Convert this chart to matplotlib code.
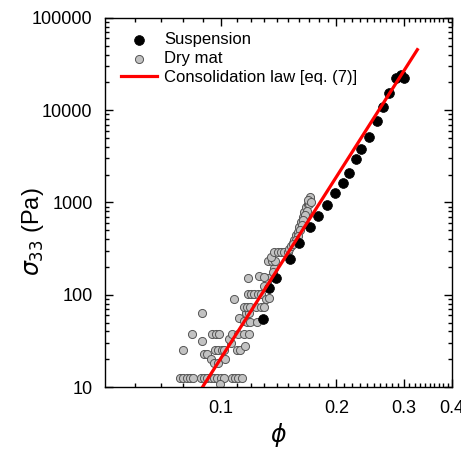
import numpy as np
import matplotlib
matplotlib.use("Agg")
import matplotlib.pyplot as plt
from matplotlib.ticker import FixedLocator, FixedFormatter, LogLocator, NullFormatter

plt.rcParams['font.family'] = ['Liberation Sans', 'DejaVu Sans']

# Suspension data (phi, sigma_33 in Pa)
susp_phi = [0.1288, 0.1336, 0.1393, 0.1516, 0.160, 0.171, 0.1795, 0.1895, 0.1988, 0.2087,
            0.2163, 0.2256, 0.2325, 0.2426, 0.2545, 0.264, 0.2736, 0.2855, 0.294, 0.2995]
susp_sigma = [54.6, 118, 152, 244, 364, 542, 714, 939, 1268, 1626,
              2089, 2961, 3802, 5130, 7647, 10840, 15380, 22380, 24110, 22380]

# Dry mat data (phi, sigma_33 in Pa)
dry_phi = [0.0786, 0.0800, 0.0815, 0.0830, 0.0848, 0.0887, 0.0903, 0.0923, 0.0941, 0.0960,
           0.0980, 0.1000, 0.1020, 0.1069, 0.1088, 0.1110, 0.1133, 0.0995,
           0.0799, 0.0843, 0.0896, 0.0894, 0.0903, 0.0923,
           0.0941, 0.0960, 0.0985, 0.1026,
           0.0966, 0.0986, 0.1006, 0.1020, 0.1100, 0.1124,
           0.1062, 0.1158, 0.1051,
           0.0951, 0.0970, 0.0990, 0.1073, 0.1110, 0.1147, 0.1186,
           0.1117, 0.1151, 0.1170, 0.1193, 0.1243,
           0.1163, 0.1186,
           0.1147, 0.1170, 0.1193, 0.1235, 0.1272, 0.1298,
           0.1084, 0.1175, 0.1199, 0.1222, 0.1248, 0.1272, 0.1312, 0.1338,
           0.1175, 0.1260, 0.1312, 0.1338, 0.1320, 0.1293, 0.1300, 0.1375, 0.1366,
           0.1330, 0.1358, 0.1385, 0.1349,
           0.1379, 0.1407, 0.1436, 0.1464, 0.1494,
           0.1510, 0.1525, 0.1541, 0.1556, 0.1572, 0.1588, 0.1603, 0.1620, 0.1636, 0.1652,
           0.1669, 0.1686, 0.1703, 0.1713, 0.1705, 0.1695, 0.1675, 0.1654, 0.1640, 0.1625,
           0.1605, 0.1586, 0.1567, 0.1544, 0.1690, 0.1715]
dry_sigma = [12.6, 12.6, 12.6, 12.6, 12.6, 12.6, 12.6, 12.6, 12.6, 12.6,
             12.6, 12.6, 12.6, 12.6, 12.6, 12.6, 12.6, 10.7,
             25.2, 37.5, 31.8, 63.0, 22.6, 22.6,
             20.1, 18.3, 18.3, 20.1,
             25.2, 25.2, 25.2, 25.2, 25.2, 25.2,
             29.8, 28.0, 32.9,
             37.5, 37.5, 37.5, 37.5, 37.5, 37.5, 37.5,
             55.5, 52.3, 50.3, 50.3, 50.3,
             63.0, 63.0,
             74.2, 74.2, 74.2, 74.2, 74.2, 74.2,
             89.3, 101, 101, 101, 101, 101, 89.3, 92,
             153, 161, 151, 151, 133, 124.5, 157, 195, 178,
             232, 232, 232, 259,
             294, 294, 294, 294, 294,
             311, 338, 361, 392, 444, 483, 547, 619, 702, 789,
             883, 963, 1038, 1119, 1147, 975, 819, 732, 646, 570,
             504, 434, 392, 355, 1064, 1025]

# Consolidation law: sigma = K * phi^n
law_K = 7.06e7
law_n = 6.54
law_phi = np.array([0.085, 0.325])

fig = plt.figure(figsize=(4.61, 4.49), dpi=100)
ax = fig.add_axes([0.2278, 0.138, 0.7527, 0.822])

ax.scatter(susp_phi, susp_sigma, s=50, c='black', edgecolors='black', linewidths=0.5,
           label='Suspension', zorder=3)
ax.scatter(dry_phi, dry_sigma, s=34, c='#c2c2c2', edgecolors='#555555', linewidths=0.7,
           label='Dry mat', zorder=2)
ax.plot(law_phi, law_K * law_phi ** law_n, color='red', lw=2.3,
        label='Consolidation law [eq. (7)]', zorder=4)

ax.set_xscale('log')
ax.set_yscale('log')
ax.set_xlim(0.05, 0.4)
ax.set_ylim(10, 100000)

ax.xaxis.set_major_locator(FixedLocator([0.1, 0.2, 0.3, 0.4]))
ax.xaxis.set_major_formatter(FixedFormatter(['0.1', '0.2', '0.3', '0.4']))
minor_x = [v / 100 for v in range(6, 40) if v not in (10, 20, 30)]
ax.xaxis.set_minor_locator(FixedLocator(minor_x))
ax.xaxis.set_minor_formatter(NullFormatter())

ax.yaxis.set_major_locator(FixedLocator([10, 100, 1000, 10000, 100000]))
ax.yaxis.set_major_formatter(FixedFormatter(['10', '100', '1000', '10000', '100000']))
ax.yaxis.set_minor_locator(LogLocator(base=10, subs=np.arange(2, 10)))
ax.yaxis.set_minor_formatter(NullFormatter())

ax.tick_params(which='both', direction='in', top=True, right=True, width=1.0)
ax.tick_params(which='major', length=6, labelsize=13, pad=9)
ax.tick_params(which='minor', length=3)
for sp in ax.spines.values():
    sp.set_linewidth(1.0)

ax.set_xlabel(r'$\phi$', fontsize=17, labelpad=3)
ax.set_ylabel(r'$\sigma_{33}$ (Pa)', fontsize=17)
ax.yaxis.set_label_coords(-0.17, 0.42)

ax.legend(loc='upper left', bbox_to_anchor=(0.045, 0.962), frameon=False, fontsize=12,
          handlelength=2.2, handletextpad=0.4, labelspacing=0.25, borderpad=0,
          borderaxespad=0)

fig.savefig('out.png', dpi=100)
